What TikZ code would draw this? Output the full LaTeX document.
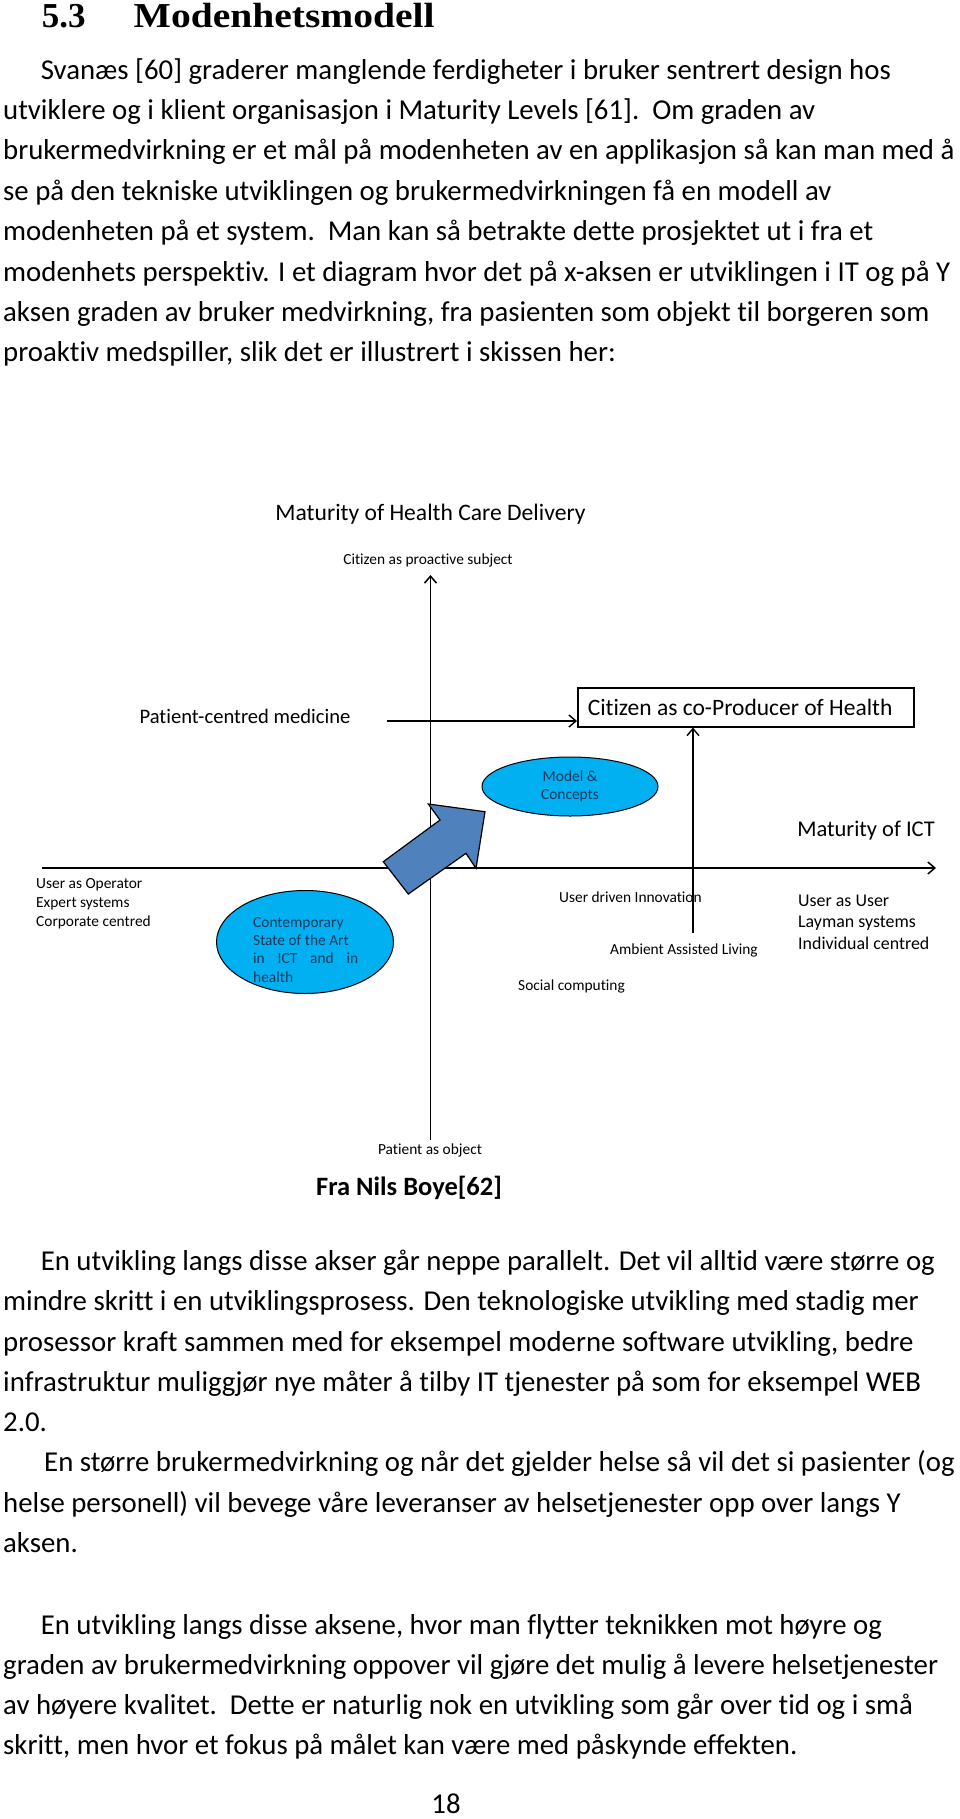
\documentclass[tikz,border=0pt]{standalone}
\usepackage{fontspec}
\setmainfont{Carlito}[Ligatures={TeX,NoCommon}]
\newfontfamily\headfont{Liberation Serif}
\usepackage{xcolor}
\usetikzlibrary{shapes.geometric,arrows.meta}

\definecolor{skyfill}{HTML}{00B0F0}
\definecolor{arrowfill}{HTML}{4F81BD}
\definecolor{inkblue}{HTML}{17375E}

\begin{document}
\begin{tikzpicture}[x=1pt, y=-1pt,
	body/.style={anchor=base west, inner sep=0pt, font=\fontsize{28.8}{40}\selectfont},
	small/.style={inner sep=0pt, font=\fontsize{15.4}{19}\selectfont},
	axisline/.style={line width=1.5pt},
	tip/.style={-{Straight Barb[length=7pt,width=12pt]}},
	bubble/.style={ellipse, draw, line width=1pt, fill=skyfill}]

	\useasboundingbox (0,0) rectangle (960,1819);

	% heading
	\node[anchor=base west, inner sep=0pt, font=\headfont\bfseries\fontsize{35}{40}\selectfont] (num) at (41.6,28) {5.3};
	\node[anchor=base west, inner sep=0pt, font=\headfont\bfseries\fontsize{35}{40}\selectfont] (head) at (133.5,28) {\scalebox{1.13}[1]{Modenhetsmodell}};

	% first paragraph
	\node[body] (l1) at (40.6,80) {Svanæs [60] graderer manglende ferdigheter i bruker sentrert design hos};
	\node[body] (l2) at (3,120) {utviklere og i klient organisasjon i Maturity Levels [61].\ \ Om graden av};
	\node[body] (l3) at (3,160) {brukermedvirkning er et mål på modenheten av en applikasjon så kan man med å};
	\node[body] (l4) at (3,200.5) {se på den tekniske utviklingen og brukermedvirkningen få en modell av};
	\node[body] (l5) at (3,241) {modenheten på et system.\ \ Man kan så betrakte dette prosjektet ut i fra et};
	\node[body] (l6) at (3,281) {modenhets perspektiv. I et diagram hvor det på x-aksen er utviklingen i IT og på Y};
	\node[body] (l7) at (3,321) {aksen graden av bruker medvirkning, fra pasienten som objekt til borgeren som};
	\node[body] (l8) at (3,361) {proaktiv medspiller, slik det er illustrert i skissen her:};

	% diagram
	\node[anchor=base, inner sep=0pt, font=\fontsize{23.6}{28}\selectfont] (mhcd) at (430.5,520) {Maturity of Health Care Delivery};
	\node[small, anchor=base] (cps) at (428,564) {Citizen as proactive subject};

	\coordinate (ytop) at (430.5,575);
	\coordinate (ybot) at (430.5,1140);
	\coordinate (xleft) at (42,868);
	\coordinate (xright) at (936,868);
	\draw[axisline, tip] (ybot) -- (ytop);
	\draw[axisline, tip] (xleft) -- (xright);

	\node[anchor=base, inner sep=0pt, font=\fontsize{20.6}{24}\selectfont] (pcm) at (245,723) {Patient-centred medicine};
	\node[draw, line width=1.6pt, anchor=north west, minimum width=336, minimum height=39, inner xsep=10pt, inner ysep=0pt, font=\fontsize{23.5}{28}\selectfont] (cop) at (577,687) {\makebox[316pt][l]{Citizen as co-Producer of Health}};

	\coordinate (pcmend) at (387,721);
	\coordinate (aalend) at (693,933);
	\draw[line width=1.4pt, tip] (pcmend) -- (pcmend -| cop.west);
	\draw[line width=1.4pt, tip] (aalend) -- (aalend |- cop.south);

	\node[bubble, minimum width=176, minimum height=59, inner sep=0pt, align=center, text=inkblue, font=\fontsize{15.4}{18.3}\selectfont] (mc) at (570,786.5) {Model \&\\Concepts};

	\node[anchor=base east, inner sep=0pt, font=\fontsize{22.5}{27}\selectfont] (mict) at (935,836) {Maturity of ICT};

	% block arrow
	\draw[fill=arrowfill, line width=1.2pt] (383.3,861.7) -- (440,820) -- (428.3,804) -- (485,811.7)
		-- (476,868.3) -- (466,853.3) -- (408.3,894) -- cycle;

	\node[bubble, minimum width=177, minimum height=103] (csa) at (305,942) {};
	\node[small, anchor=north west, align=left, text=inkblue, font=\fontsize{15.4}{18.3}\selectfont] (csatxt) at (253,917) {Contemporary\\State of the Art\\\makebox[105pt][s]{in ICT and in}\\health};

	\node[small, anchor=north west, align=left] (uop) at (36,878) {User as Operator\\Expert systems\\Corporate centred};
	\node[anchor=north west, inner sep=0pt, align=left, font=\fontsize{17.9}{21.5}\selectfont] (uus) at (798,894.5) {User as User\\Layman systems\\Individual centred};

	\node[small, anchor=base west] (udi) at (559,902) {User driven Innovation};
	\node[small, anchor=base west] (aal) at (610,954) {Ambient Assisted Living};
	\node[small, anchor=base west] (soc) at (518,990) {Social computing};

	\node[small, anchor=base] (pao) at (430,1154) {Patient as object};
	\node[anchor=base, inner sep=0pt, font=\bfseries\fontsize{26.5}{30}\selectfont] (src) at (409,1195) {Fra Nils Boye[62]};

	% second part
	\node[body] (m1) at (40.6,1270) {En utvikling langs disse akser går neppe parallelt. Det vil alltid være større og};
	\node[body] (m2) at (3,1310.5) {mindre skritt i en utviklingsprosess. Den teknologiske utvikling med stadig mer};
	\node[body] (m3) at (3,1351) {prosessor kraft sammen med for eksempel moderne software utvikling, bedre};
	\node[body] (m4) at (3,1391) {infrastruktur muliggjør nye måter å tilby IT tjenester på som for eksempel WEB};
	\node[body] (m5) at (3,1431) {2.0.};
	\node[body] (m6) at (44,1471.5) {En større brukermedvirkning og når det gjelder helse så vil det si pasienter (og};
	\node[body] (m7) at (3,1512) {helse personell) vil bevege våre leveranser av helsetjenester opp over langs Y};
	\node[body] (m8) at (3,1552) {aksen.};
	\node[body] (m9) at (40.6,1634) {En utvikling langs disse aksene, hvor man flytter teknikken mot høyre og};
	\node[body] (m10) at (3,1674) {graden av brukermedvirkning oppover vil gjøre det mulig å levere helsetjenester};
	\node[body] (m11) at (3,1714) {av høyere kvalitet.\ \ Dette er naturlig nok en utvikling som går over tid og i små};
	\node[body] (m12) at (3,1754) {skritt, men hvor et fokus på målet kan være med påskynde effekten.};

	\node[anchor=base, inner sep=0pt, font=\fontsize{28.8}{34}\selectfont] (pg) at (446,1813) {18};
\end{tikzpicture}
\end{document}
